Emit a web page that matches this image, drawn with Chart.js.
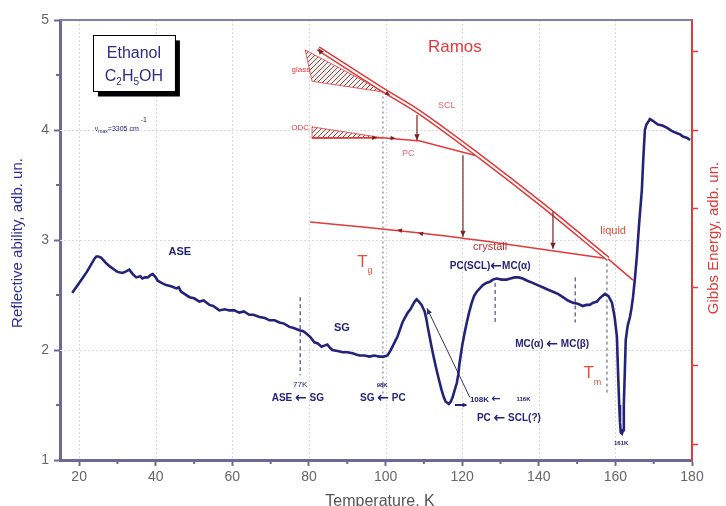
<!DOCTYPE html>
<html><head><meta charset="utf-8">
<script src="https://cdn.jsdelivr.net/npm/chart.js@4.4.0/dist/chart.umd.min.js"></script>
<style>html,body{margin:0;padding:0;background:#fff;overflow:hidden}#wrap{width:726px;height:506px}</style>
</head><body><div id="wrap"><canvas id="c" width="726" height="506"></canvas></div>
<script>
// ---- measured reflectivity curve ----
const temperatureK = [
 18.2,19,20,21,22,23,24,24.5,25,25.7,
 26.5,27,28,29.2,30,31.3,32,33.1,34,34.9,
 36,36.5,37.2,37.9,38.6,39.2,40,40.5,41.5,42.7,
 44,45.4,46,46.6,47.5,48.8,50,51.4,52.5,54,
 55,56.6,58,59.2,60.5,61.8,63,64.4,65.5,67.1,
 68.5,69.7,71,72.3,73.5,74.9,76,77.5,78.5,79.3,
 80.3,81.4,82.3,83.3,84,84.8,85.5,86.1,87.5,88.8,
 90,91.4,92.3,93.2,94.5,95.8,97,98.4,99.5,100.5,
 101.2,101.8,102.5,103.1,103.8,104.4,105,105.8,106.5,107.1,
 107.6,108.1,108.7,109.4,109.8,110.2,110.6,111,111.5,112,
 112.6,113.3,114,114.6,115.2,115.7,116.1,116.5,117,117.5,
 118,118.6,119,119.3,119.7,120.1,120.6,121.2,121.8,122.5,
 123.1,123.8,124.6,125.4,126.3,127.2,128,129,130.3,131.6,
 132.6,133.7,134.7,135.8,137,138.4,139.7,141,142.3,143.7,
 145,146.3,147.6,148.9,150.2,151.5,152.4,153.3,154.2,155.2,
 155.9,156.6,157.3,158.2,159.1,159.8,160.4,160.7,161,161.2,
 161.4,161.7,162,162.2,162.5,162.7,163.2,163.8,164.2,164.6,
 165.1,165.6,166.2,166.9,167.3,167.7,168.1,168.5,169,169.5,
 170.3,171.1,172.3,173.5,174.8,176.1,176.9,177.6,178.6,179.5];
const reflectivity = [
 2.52,2.56,2.61,2.66,2.71,2.77,2.83,2.85,2.85,2.84,
 2.81,2.79,2.76,2.73,2.71,2.70,2.71,2.73,2.69,2.66,
 2.67,2.65,2.66,2.66,2.68,2.69,2.66,2.63,2.61,2.59,
 2.58,2.56,2.57,2.53,2.51,2.48,2.47,2.44,2.45,2.41,
 2.40,2.36,2.37,2.36,2.36,2.34,2.35,2.32,2.32,2.30,
 2.29,2.27,2.27,2.25,2.24,2.21,2.20,2.18,2.17,2.15,
 2.12,2.07,2.06,2.03,2.04,2.05,2.02,2.00,1.99,1.98,
 1.98,1.97,1.96,1.95,1.95,1.94,1.95,1.94,1.94,1.95,
 1.99,2.03,2.08,2.12,2.19,2.25,2.29,2.34,2.37,2.41,
 2.44,2.46,2.44,2.41,2.38,2.35,2.29,2.21,2.12,2.03,
 1.93,1.82,1.72,1.64,1.57,1.53,1.52,1.51,1.53,1.57,
 1.63,1.70,1.78,1.88,1.97,2.06,2.15,2.25,2.34,2.43,
 2.49,2.53,2.56,2.59,2.61,2.62,2.64,2.65,2.64,2.64,
 2.65,2.66,2.66,2.65,2.63,2.61,2.59,2.57,2.55,2.53,
 2.51,2.48,2.45,2.43,2.42,2.40,2.41,2.41,2.43,2.44,
 2.47,2.49,2.51,2.49,2.43,2.30,2.12,1.79,1.50,1.34,
 1.25,1.24,1.27,1.50,1.85,2.09,2.22,2.30,2.38,2.48,
 2.65,2.85,3.15,3.45,3.75,4.00,4.05,4.07,4.10,4.09,
 4.07,4.05,4.04,4.02,3.99,3.97,3.96,3.94,3.93,3.91];

// ---- ticks ----
const xTickValues = [20,40,60,80,100,120,140,160,180];
const xMinorTickValues = [30,50,70,90,110,130,150,170];
const yTickValues = [1,2,3,4,5];
const yMinorTickValues = [1.5,2.5,3.5,4.5];
const gibbsTickValues = [0,1,2,3,4,5];

// ---- Gibbs energy sketch (Ramos), T in K, G in adb. un. ----
const sclT = [82.4, 99.3, 109.0, 124.7, 140.3, 158.1];
const sclG = [5.04, 4.51, 4.22, 3.66, 3.07, 2.36];
const liquidT = [158.1, 164.6];
const liquidG = [2.36, 2.09];
const crystalT = [80.3, 109.0, 129.9, 158.1];
const crystalG = [2.83, 2.69, 2.56, 2.36];
const pcT = [80.8, 99.3, 109.0, 124.7];
const pcG = [3.90, 3.90, 3.86, 3.66];
const glassT = [79.0, 99.9, 80.8, 79.0];
const glassG = [5.02, 4.48, 4.62, 5.02];
const odcT = [80.8, 99.3, 80.8, 80.8];
const odcG = [4.04, 3.90, 3.89, 4.04];

// transition markers (T in K, reflectivity range)
const markT = [77.7, 128.6, 149.5];
const markTop = [2.48, 2.61, 2.66];
const markBottom = [1.77, 2.25, 2.25];
const tgT = 99.3, tgRange = [4.35, 1.55];
const tmT = 157.8, tmRange = [2.84, 1.59];

const F = '"Liberation Sans", Arial, sans-serif';
const NAVY = '#23237a';
const RED = '#e03a3a';
const AXIS = '#6b6b99';

const zip = (xs, ys) => xs.map((x, i) => ({x: x, y: ys[i]}));
function ln(xs, ys, o) {
  return Object.assign({data: zip(xs, ys), showLine: true, pointRadius: 0, fill: false, tension: 0}, o);
}

const cvs = document.getElementById('c');
const ctx0 = cvs.getContext('2d');
function hatch() {
  const c = document.createElement('canvas'); c.width = 5; c.height = 5;
  const g = c.getContext('2d');
  g.fillStyle = 'rgba(255,225,225,0.6)'; g.fillRect(0, 0, 5, 5);
  g.strokeStyle = '#4f6157'; g.lineWidth = 1;
  g.beginPath(); g.moveTo(0, 5); g.lineTo(5, 0); g.moveTo(-1, 1); g.lineTo(1, -1); g.moveTo(4, 6); g.lineTo(6, 4); g.stroke();
  return ctx0.createPattern(c, 'repeat');
}
const pat = hatch();

const datasets = [
  ln(temperatureK, reflectivity, {borderColor: NAVY, borderWidth: 2.6, yAxisID: 'y'}),
  ln([122.0, 110.8], [1.57, 2.38], {borderColor: '#333366', borderWidth: 1, yAxisID: 'y'}),
  ln([118.1, 121.0], [1.50, 1.50], {borderColor: NAVY, borderWidth: 2, yAxisID: 'y'}),
  ln(sclT, sclG, {borderColor: '#ffffff', borderWidth: 2, yAxisID: 'y2', tension: 0.35}),
  ln(sclT, sclG, {borderColor: RED, borderWidth: 5, yAxisID: 'y2', tension: 0.35}),
  ln(liquidT, liquidG, {borderColor: RED, borderWidth: 1.5, yAxisID: 'y2'}),
  ln(crystalT, crystalG, {borderColor: RED, borderWidth: 1.5, yAxisID: 'y2', tension: 0.2}),
  ln(pcT, pcG, {borderColor: RED, borderWidth: 1.5, yAxisID: 'y2'}),
  ln(glassT, glassG, {borderColor: 'rgba(224,58,58,0.8)', borderWidth: 1, yAxisID: 'y2', fill: 'shape', backgroundColor: pat}),
  ln(odcT, odcG, {borderColor: 'rgba(224,58,58,0.8)', borderWidth: 1, yAxisID: 'y2', fill: 'shape', backgroundColor: pat}),
  ln([tgT, tgT], tgRange, {borderColor: '#a8a0a8', borderWidth: 1.6, borderDash: [2, 3], yAxisID: 'y'}),
  ln([tmT, tmT], tmRange, {borderColor: '#555566', borderWidth: 1, borderDash: [3, 3], yAxisID: 'y'})
];
markT.forEach((t, i) => datasets.push(ln([t, t], [markTop[i], markBottom[i]], {borderColor: NAVY, borderWidth: 1, borderDash: [4, 3], yAxisID: 'y'})));

// arrow heads: from (x1,y1) toward (x2,y2), head at (x2,y2)
const arrowLines = [
  {axis: 'y2', x1: 108.2, y1: 4.19, x2: 108.2, y2: 3.87, color: '#7a2424'},
  {axis: 'y2', x1: 120.2, y1: 3.68, x2: 120.2, y2: 2.64, color: '#7a2424'},
  {axis: 'y2', x1: 143.7, y1: 2.96, x2: 143.7, y2: 2.49, color: '#7a2424'}
];
const arrowHeads = [
  {axis: 'y2', x1: 84.5, y1: 4.90, x2: 82.4, y2: 5.04, color: '#7a2424', s: 6},
  {axis: 'y2', x1: 99.9, y1: 4.48, x2: 101.2, y2: 4.44, color: '#7a2424', s: 5},
  {axis: 'y2', x1: 96.0, y1: 3.90, x2: 97.8, y2: 3.90, color: '#7a2424', s: 5},
  {axis: 'y2', x1: 100.8, y1: 3.90, x2: 102.6, y2: 3.895, color: '#7a2424', s: 5},
  {axis: 'y2', x1: 105.0, y1: 2.71, x2: 103.0, y2: 2.73, color: '#7a2424', s: 5},
  {axis: 'y2', x1: 110.5, y1: 2.67, x2: 108.5, y2: 2.69, color: '#7a2424', s: 5},
  {axis: 'y', x1: 112.0, y1: 2.29, x2: 110.8, y2: 2.38, color: '#333366', s: 6},
  {axis: 'y', x1: 119.5, y1: 1.50, x2: 121.4, y2: 1.50, color: NAVY, s: 5}
];

const blueLabels = [
  {t: 'ASE', x: 46.3, y: 2.89, s: 11},
  {t: 'SG', x: 88.6, y: 2.20, s: 11},
  {t: '77K', x: 77.7, y: 1.68, s: 8, n: true},
  {t: 'ASE \u2190 SG', x: 77.1, y: 1.56, s: 10},
  {t: '98K', x: 99.1, y: 1.68, s: 6},
  {t: 'SG \u2190 PC', x: 99.3, y: 1.56, s: 10},
  {t: '108K \u2190', x: 126.0, y: 1.55, s: 8},
  {t: '116K', x: 136.0, y: 1.55, s: 6},
  {t: 'PC \u2190 SCL(?)', x: 132.2, y: 1.38, s: 10},
  {t: 'PC(SCL)\u2190MC(\u03b1)', x: 127.3, y: 2.76, s: 10},
  {t: 'MC(\u03b1) \u2190 MC(\u03b2)', x: 143.5, y: 2.05, s: 10},
  {t: '161K', x: 161.5, y: 1.15, s: 6}
];
const redLabels = [
  {t: 'Ramos', x: 118.1, y: 4.75, s: 17, c: RED},
  {t: 'glass', x: 77.9, y: 4.55, s: 8, c: RED},
  {t: 'ODC', x: 77.7, y: 4.02, s: 8, c: RED},
  {t: 'SCL', x: 116.0, y: 4.22, s: 9, c: '#e06a6a'},
  {t: 'PC', x: 105.9, y: 3.79, s: 9, c: '#e06a6a'},
  {t: 'crystall', x: 127.3, y: 2.94, s: 11, c: '#b83030'},
  {t: 'liquid', x: 159.4, y: 3.08, s: 11, c: '#e0503a'}
];

function head(ctx, x1, y1, x2, y2, s, color) {
  const a = Math.atan2(y2 - y1, x2 - x1);
  ctx.fillStyle = color;
  ctx.beginPath();
  ctx.moveTo(x2, y2);
  ctx.lineTo(x2 - s * Math.cos(a) + s * 0.45 * Math.sin(a), y2 - s * Math.sin(a) - s * 0.45 * Math.cos(a));
  ctx.lineTo(x2 - s * Math.cos(a) - s * 0.45 * Math.sin(a), y2 - s * Math.sin(a) + s * 0.45 * Math.cos(a));
  ctx.closePath(); ctx.fill();
}
function segText(ctx, parts, cx, y) {
  let w = 0;
  parts.forEach(p => { ctx.font = p[1] + 'px ' + F; w += ctx.measureText(p[0]).width; });
  let x = cx - w / 2;
  ctx.textAlign = 'left';
  parts.forEach(p => { ctx.font = p[1] + 'px ' + F; ctx.fillText(p[0], x, y + p[2]); x += ctx.measureText(p[0]).width; });
}
// label with a heavier arrow glyph
function arrowLabel(ctx, text, size, bold, cx, y) {
  const pieces = text.split('\u2190');
  const fN = (bold ? 'bold ' : '') + size + 'px ' + F;
  const fA = 'bold ' + Math.round(size * 1.35) + 'px "DejaVu Sans", sans-serif';
  let w = 0;
  pieces.forEach((p, i) => { ctx.font = fN; w += ctx.measureText(p).width; if (i < pieces.length - 1) { ctx.font = fA; w += ctx.measureText('\u2190').width; } });
  let x = cx - w / 2;
  ctx.textAlign = 'left';
  pieces.forEach((p, i) => {
    ctx.font = fN; ctx.fillText(p, x, y); x += ctx.measureText(p).width;
    if (i < pieces.length - 1) { ctx.font = fA; ctx.fillText('\u2190', x, y); x += ctx.measureText('\u2190').width; }
  });
}

const deco = {
  id: 'deco',
  beforeDatasetsDraw(chart) {
    const {ctx, chartArea: a, scales} = chart;
    ctx.save();
    ctx.strokeStyle = '#d9d9de'; ctx.lineWidth = 1; ctx.setLineDash([2, 2]);
    xTickValues.forEach(v => { const p = Math.round(scales.x.getPixelForValue(v)) + 0.5; if (p < a.right - 2) { ctx.beginPath(); ctx.moveTo(p, a.top); ctx.lineTo(p, a.bottom); ctx.stroke(); } });
    yTickValues.forEach(v => { const p = Math.round(scales.y.getPixelForValue(v)) + 0.5; if (p > a.top + 2 && p < a.bottom - 2) { ctx.beginPath(); ctx.moveTo(a.left, p); ctx.lineTo(a.right, p); ctx.stroke(); } });
    ctx.restore();
  },
  afterDatasetsDraw(chart) {
    const {ctx, chartArea: a, scales} = chart;
    const X = v => scales.x.getPixelForValue(v);
    ctx.save();
    // top frame
    ctx.strokeStyle = '#8080aa'; ctx.lineWidth = 2;
    ctx.beginPath(); ctx.moveTo(a.left, a.top); ctx.lineTo(a.right, a.top); ctx.stroke();
    // minor ticks
    ctx.strokeStyle = AXIS; ctx.lineWidth = 2;
    xMinorTickValues.forEach(v => { const p = X(v); ctx.beginPath(); ctx.moveTo(p, a.bottom); ctx.lineTo(p, a.bottom + 4); ctx.stroke(); });
    yMinorTickValues.forEach(v => { const p = scales.y.getPixelForValue(v); ctx.beginPath(); ctx.moveTo(a.left - 4, p); ctx.lineTo(a.left, p); ctx.stroke(); });
    // arrows
    arrowLines.forEach(r => {
      const Y = scales[r.axis];
      const x1 = X(r.x1), y1 = Y.getPixelForValue(r.y1), x2 = X(r.x2), y2 = Y.getPixelForValue(r.y2);
      ctx.strokeStyle = r.color; ctx.lineWidth = 1.2;
      ctx.beginPath(); ctx.moveTo(x1, y1); ctx.lineTo(x2, y2); ctx.stroke();
      head(ctx, x1, y1, x2, y2, 6, r.color);
    });
    arrowHeads.forEach(r => {
      const Y = scales[r.axis];
      head(ctx, X(r.x1), Y.getPixelForValue(r.y1), X(r.x2), Y.getPixelForValue(r.y2), r.s, r.color);
    });
    // labels
    ctx.textBaseline = 'middle';
    blueLabels.forEach(l => {
      ctx.fillStyle = NAVY;
      arrowLabel(ctx, l.t, l.s, !l.n, X(l.x), scales.y.getPixelForValue(l.y));
    });
    redLabels.forEach(l => {
      ctx.font = l.s + 'px ' + F; ctx.fillStyle = l.c; ctx.textAlign = 'center';
      ctx.fillText(l.t, X(l.x), scales.y.getPixelForValue(l.y));
    });
    // Tg, Tm
    ctx.fillStyle = '#e0503a';
    segText(ctx, [['T', 17, 0], ['g', 9, 9]], X(94.6), scales.y.getPixelForValue(2.80));
    segText(ctx, [['T', 17, 0], ['m', 9, 9]], X(154.0), scales.y.getPixelForValue(1.79));
    // Ethanol box
    const bx1 = X(23.6), by1 = scales.y.getPixelForValue(4.86), bx2 = X(45.0), by2 = scales.y.getPixelForValue(4.35);
    ctx.fillStyle = '#000'; ctx.fillRect(bx1 + 5, by1 + 5, bx2 - bx1, by2 - by1);
    ctx.fillStyle = '#fff'; ctx.fillRect(bx1, by1, bx2 - bx1, by2 - by1);
    ctx.strokeStyle = '#000'; ctx.lineWidth = 1; ctx.strokeRect(Math.round(bx1) + 0.5, Math.round(by1) + 0.5, Math.round(bx2 - bx1), Math.round(by2 - by1));
    ctx.fillStyle = '#2d2d7d'; ctx.textBaseline = 'middle';
    segText(ctx, [['Ethanol', 16, 0]], (bx1 + bx2) / 2, by1 + 18);
    segText(ctx, [['C', 16, 0], ['2', 10, 6], ['H', 16, 0], ['5', 10, 6], ['OH', 16, 0]], (bx1 + bx2) / 2, by1 + 41);
    // nu max
    const nx = X(24.1), ny = scales.y.getPixelForValue(4.01);
    ctx.textAlign = 'left'; ctx.fillStyle = NAVY;
    let xx = nx;
    [['\u03bd', 7, 0], ['max', 5, 3], ['=3305 cm', 7, 0], ['-1', 7, -9]].forEach(p => {
      ctx.font = p[1] + 'px ' + F; ctx.fillText(p[0], xx, ny + p[2]); xx += ctx.measureText(p[0]).width + (p[0] === '=3305 cm' ? 2 : 0);
    });
    // axis titles
    ctx.textAlign = 'center'; ctx.textBaseline = 'middle';
    ctx.save(); ctx.translate(18, 243); ctx.rotate(-Math.PI / 2);
    ctx.font = '15px ' + F; ctx.fillStyle = '#2e2e9a'; ctx.fillText('Reflective ability, adb. un.', 0, 0); ctx.restore();
    ctx.save(); ctx.translate(714, 238); ctx.rotate(-Math.PI / 2);
    ctx.font = '15px ' + F; ctx.fillStyle = RED; ctx.fillText('Gibbs Energy, adb. un.', 0, 0); ctx.restore();
    ctx.font = '16px ' + F; ctx.fillStyle = '#555'; ctx.fillText('Temperature, K', 380, 502);
    ctx.restore();
  }
};

new Chart(cvs, {
  type: 'scatter',
  data: {datasets: datasets},
  options: {
    responsive: false, animation: false, devicePixelRatio: 1,
    layout: {padding: {top: 20, left: 0, right: 0, bottom: 0}},
    plugins: {legend: {display: false}, tooltip: {enabled: false}},
    scales: {
      x: {
        type: 'linear', min: 15, max: 180,
        afterBuildTicks: s => { s.ticks = xTickValues.map(v => ({value: v})); },
        afterFit: s => { s.height = 46; },
        ticks: {color: '#666', font: {size: 14, family: F}, padding: 3, maxRotation: 0, autoSkip: false},
        grid: {drawOnChartArea: false, tickLength: 6, tickColor: AXIS, tickWidth: 2},
        border: {color: AXIS, width: 3}
      },
      y: {
        type: 'linear', position: 'left', min: 1, max: 5,
        afterBuildTicks: s => { s.ticks = yTickValues.map(v => ({value: v})); },
        afterFit: s => { s.width = 60; },
        ticks: {color: '#666', font: {size: 14, family: F}, padding: 5},
        grid: {drawOnChartArea: false, tickLength: 6, tickColor: AXIS, tickWidth: 2},
        border: {color: AXIS, width: 3}
      },
      y2: {
        type: 'linear', position: 'right', min: -0.2, max: 5.4,
        afterBuildTicks: s => { s.ticks = gibbsTickValues.map(v => ({value: v})); },
        afterFit: s => { s.width = 34; },
        ticks: {callback: () => '', padding: 0},
        grid: {drawOnChartArea: false, tickLength: 6, tickColor: RED, tickWidth: 1.5},
        border: {color: RED, width: 2}
      }
    }
  },
  plugins: [deco]
});
</script></body></html>
